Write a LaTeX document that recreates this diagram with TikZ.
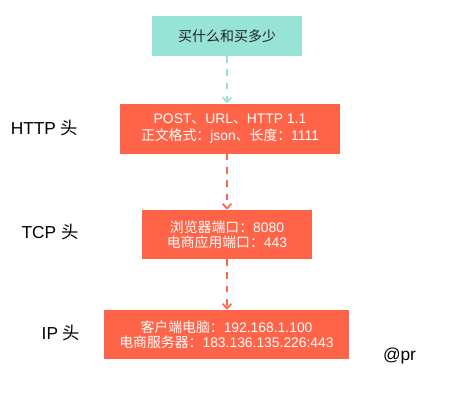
\documentclass[tikz,border=0pt]{standalone}
\usepackage{fontspec}
\setmainfont{Liberation Sans}
\newfontfamily\cjk{Noto Sans CJK SC}
\usetikzlibrary{arrows.meta}
\definecolor{mint}{HTML}{97E3D5}
\definecolor{tomato}{HTML}{FF6449}
\definecolor{darktext}{HTML}{222222}
\tikzset{
  box/.style={rectangle, inner sep=0pt, align=center, text=white,
    font=\fontsize{10.4}{12.6}\selectfont},
  lbl/.style={font=\fontsize{13}{15}\selectfont, text=black, inner sep=0pt},
  conn/.style={line width=1.5pt, dash pattern=on 5pt off 5pt,
    -{Straight Barb[length=3.5pt,width=6.5pt,line width=1.3pt]}},
}
\begin{document}
\begin{tikzpicture}[x=0.75pt,y=-0.75pt]
\useasboundingbox (0,0) rectangle (460,405);
\node[box, fill=mint, text=darktext, minimum width=112.5pt, minimum height=30pt,
  font=\fontsize{10.5}{13}\selectfont] (top) at (227,36) {\cjk 买什么和买多少};
\node[box, fill=tomato, minimum width=165pt, minimum height=37.5pt] (http) at (230,128.5)
  {POST{\cjk 、}URL{\cjk 、}HTTP 1.1\\{\cjk 正文格式：}json{\cjk 、长度：}1111};
\node[box, fill=tomato, minimum width=127.5pt, minimum height=36.75pt] (tcp) at (227,234.5)
  {{\cjk 浏览器端口：}8080\\[-1.5pt]{\cjk 电商应用端口：}443};
\node[box, fill=tomato, minimum width=183.75pt, minimum height=36.75pt] (ip) at (226.5,334.5)
  {{\cjk 客户端电脑：}192.168.1.100\\[-1.5pt]{\cjk 电商服务器：}183.136.135.226:443};
\node[lbl] (lhttp) at (44.5,128) {HTTP {\cjk 头}};
\node[lbl] (ltcp) at (50,232) {TCP {\cjk 头}};
\node[lbl] (lip) at (61,333) {IP {\cjk 头}};
\node[lbl] (sig) at (399.5,356) {@pr};
\coordinate (a1) at (227,56);
\coordinate (a2) at (227,153.5);
\coordinate (a3) at (227,259);
\draw[conn, mint] (a1) -- (a1 |- http.north);
\draw[conn, tomato] (a2) -- (a2 |- tcp.north);
\draw[conn, tomato] (a3) -- (a3 |- ip.north);
\end{tikzpicture}
\end{document}
